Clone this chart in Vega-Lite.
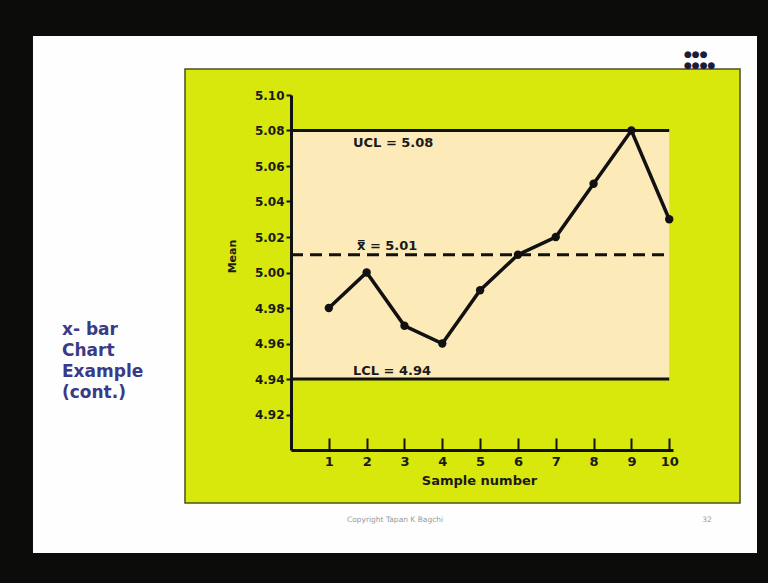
{
  "$schema": "https://vega.github.io/schema/vega-lite/v6.json",
  "autosize": "none",
  "width": 382,
  "height": 355,
  "padding": {"left": 291, "top": 95, "right": 95, "bottom": 133},
  "background": "#0c0c0a",
  "config": {"view": {"stroke": null}, "font": "DejaVu Sans", "axis": {"labelOverlap": false, "labelBound": false, "labelFlush": false, "grid": false}},
  "datasets": {
    "samples": [
      {"sample": 1, "mean": 4.98},
      {"sample": 2, "mean": 5.00},
      {"sample": 3, "mean": 4.97},
      {"sample": 4, "mean": 4.96},
      {"sample": 5, "mean": 4.99},
      {"sample": 6, "mean": 5.01},
      {"sample": 7, "mean": 5.02},
      {"sample": 8, "mean": 5.05},
      {"sample": 9, "mean": 5.08},
      {"sample": 10, "mean": 5.03}
    ],
    "limits": [
      {"name": "UCL", "value": 5.08, "label": "UCL = 5.08"},
      {"name": "LCL", "value": 4.94, "label": "LCL = 4.94"}
    ],
    "center": [{"name": "CL", "value": 5.01, "label": "x̿ = 5.01"}],
    "one": [{}]
  },
  "layer": [
    {
      "data": {"name": "one"},
      "mark": {"type": "rect", "fill": "#fefefe", "clip": false},
      "encoding": {
        "x": {"datum": -6.822, "type": "quantitative", "scale": {"domain": [0, 10.1], "nice": false, "zero": false},
          "axis": {"values": [1,2,3,4,5,6,7,8,9,10], "tickCount": 20, "format": "d", "title": "Sample number", "labelOverlap": false, "zindex": 2,
            "domainColor": "#111", "domainWidth": 3, "tickColor": "#111", "tickWidth": 2, "tickSize": -12,
            "labelPadding": 17, "labelFont": "DejaVu Sans", "labelFontWeight": "bold", "labelFontSize": 13, "labelColor": "#1a1a1a",
            "titleFont": "DejaVu Sans", "titleFontWeight": "bold", "titleFontSize": 13, "titleColor": "#1a1a1a",
            "titleX": 188, "titleY": 34, "titleBaseline": "alphabetic", "titleAlign": "center", "titleAnchor": null}},
        "x2": {"datum": 12.321},
        "y": {"datum": 5.1332, "type": "quantitative", "scale": {"domain": [4.9, 5.1], "nice": false, "zero": false},
          "axis": {"values": [4.92,4.94,4.96,4.98,5.0,5.02,5.04,5.06,5.08,5.1], "tickCount": 20, "format": ".2f", "title": "Mean", "zindex": 2,
            "labelOverlap": false, "labelBound": false, "labelFlush": false,
            "domainColor": "#111", "domainWidth": 3, "tickColor": "#111", "tickWidth": 2, "tickSize": 5,
            "labelPadding": 2, "labelFont": "DejaVu Sans", "labelFontWeight": "bold", "labelFontSize": 12, "labelColor": "#1a1a1a",
            "titleFont": "DejaVu Sans", "titleFontWeight": "bold", "titleFontSize": 11, "titleColor": "#1a1a1a",
            "titleX": -56, "titleY": 161, "titleAngle": -90, "titleBaseline": "alphabetic", "titleAlign": "center", "titleAnchor": null}},
        "y2": {"datum": 4.842}
      }
    },
    {
      "data": {"name": "one"},
      "mark": {"type": "rect", "fill": "#d8e70c", "stroke": "#4d5020", "strokeWidth": 1.5, "clip": false},
      "encoding": {
        "x": {"datum": -2.803, "type": "quantitative"},
        "x2": {"datum": 11.872},
        "y": {"datum": 5.11465, "type": "quantitative"},
        "y2": {"datum": 4.87014}
      }
    },
    {
      "data": {"name": "one"},
      "mark": {"type": "rect", "fill": "#fdeab9"},
      "encoding": {
        "x": {"datum": 0, "type": "quantitative"},
        "x2": {"datum": 10},
        "y": {"datum": 5.08, "type": "quantitative"},
        "y2": {"datum": 4.94}
      }
    },
    {
      "data": {"name": "limits"},
      "mark": {"type": "rule", "color": "#111", "strokeWidth": 3},
      "encoding": {
        "x": {"datum": 0, "type": "quantitative"},
        "x2": {"datum": 10},
        "y": {"field": "value", "type": "quantitative"}
      }
    },
    {
      "data": {"name": "center"},
      "mark": {"type": "rule", "color": "#111", "strokeWidth": 3, "strokeDash": [12, 7]},
      "encoding": {
        "x": {"datum": 0, "type": "quantitative"},
        "x2": {"datum": 10},
        "y": {"field": "value", "type": "quantitative"}
      }
    },
    {
      "data": {"name": "samples"},
      "mark": {"type": "line", "color": "#111", "strokeWidth": 3.5},
      "encoding": {
        "x": {"field": "sample", "type": "quantitative"},
        "y": {"field": "mean", "type": "quantitative"}
      }
    },
    {
      "data": {"name": "samples"},
      "mark": {"type": "point", "filled": true, "color": "#111", "size": 70, "opacity": 1},
      "encoding": {
        "x": {"field": "sample", "type": "quantitative"},
        "y": {"field": "mean", "type": "quantitative"}
      }
    },
    {
      "data": {"name": "limits"},
      "transform": [{"filter": "datum.name === 'UCL'"}],
      "mark": {"type": "text", "align": "left", "baseline": "alphabetic", "font": "DejaVu Sans", "fontWeight": "bold", "fontSize": 13, "color": "#1a1a1a", "dx": 0, "dy": 16},
      "encoding": {
        "x": {"datum": 1.639, "type": "quantitative"},
        "y": {"field": "value", "type": "quantitative"},
        "text": {"field": "label"}
      }
    },
    {
      "data": {"name": "limits"},
      "transform": [{"filter": "datum.name === 'LCL'"}],
      "mark": {"type": "text", "align": "left", "baseline": "alphabetic", "font": "DejaVu Sans", "fontWeight": "bold", "fontSize": 13, "color": "#1a1a1a", "dy": -4},
      "encoding": {
        "x": {"datum": 1.639, "type": "quantitative"},
        "y": {"field": "value", "type": "quantitative"},
        "text": {"field": "label"}
      }
    },
    {
      "data": {"name": "center"},
      "mark": {"type": "text", "align": "left", "baseline": "alphabetic", "font": "DejaVu Sans", "fontWeight": "bold", "fontSize": 13, "color": "#1a1a1a", "dy": -5},
      "encoding": {
        "x": {"datum": 1.745, "type": "quantitative"},
        "y": {"field": "value", "type": "quantitative"},
        "text": {"field": "label"}
      }
    },
    {
      "data": {"name": "one"},
      "mark": {"type": "text", "align": "left", "baseline": "alphabetic", "font": "DejaVu Sans", "fontWeight": "bold", "fontSize": 17, "lineHeight": 21, "color": "#3a3a86", "clip": false,
        "text": ["x- bar", "Chart", "Example", "(cont.)"]},
      "encoding": {
        "x": {"datum": -6.055, "type": "quantitative"},
        "y": {"datum": 4.96479, "type": "quantitative"}
      }
    },
    {
      "data": {"name": "one"},
      "mark": {"type": "text", "align": "center", "baseline": "alphabetic", "font": "DejaVu Sans", "fontSize": 7.5, "color": "#9a9a9a", "clip": false,
        "text": "Copyright Tapan K Bagchi"},
      "encoding": {
        "x": {"datum": 2.75, "type": "quantitative"},
        "y": {"datum": 4.85944, "type": "quantitative"}
      }
    },
    {
      "data": {"name": "one"},
      "mark": {"type": "text", "align": "center", "baseline": "alphabetic", "font": "DejaVu Sans", "fontSize": 7.5, "color": "#9a9a9a", "clip": false,
        "text": "32"},
      "encoding": {
        "x": {"datum": 11.0, "type": "quantitative"},
        "y": {"datum": 4.85944, "type": "quantitative"}
      }
    },
    {
      "data": {"name": "one"},
      "mark": {"type": "text", "align": "left", "baseline": "alphabetic", "font": "DejaVu Sans", "fontSize": 9, "lineHeight": 11, "color": "#1b1b3a", "clip": false,
        "text": ["●●●", "●●●●"]},
      "encoding": {
        "x": {"datum": 10.39, "type": "quantitative"},
        "y": {"datum": 5.1214, "type": "quantitative"}
      }
    }
  ]
}
